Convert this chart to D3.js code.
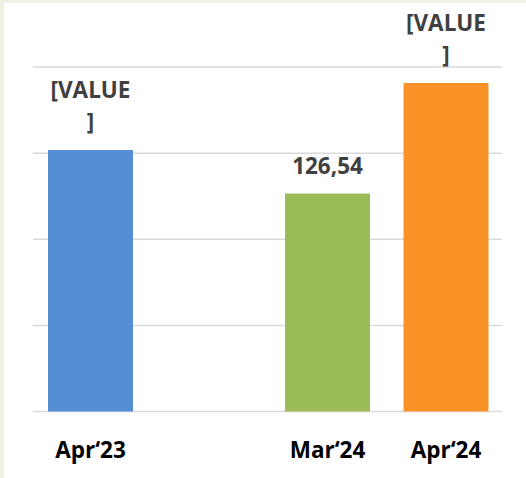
<!DOCTYPE html>
<html><head><meta charset="utf-8">
<script src="https://cdn.jsdelivr.net/npm/d3@7"></script>
<style>html,body{margin:0;padding:0;background:#fff;}svg{display:block;}</style>
</head><body>
<script>
const categories = ["Apr‘23", "", "Mar‘24", "Apr‘24"];
const values = [151.8, null, 126.54, 190.7];
const valueLabels = ["[VALUE ]", null, "126,54", "[VALUE ]"];
const colors = ["#558ed5", null, "#9bbb59", "#fa9228"];
const yTicks = [0, 50, 100, 150, 200];

const W = 526, H = 478;
const svg = d3.select("body").append("svg").attr("width", W).attr("height", H);
svg.append("rect").attr("width", W).attr("height", H).attr("fill", "#eef1e2");
svg.append("rect").attr("x", 4).attr("y", 3).attr("width", W - 4).attr("height", H - 3).attr("fill", "#fff");

const x = d3.scaleBand().domain(d3.range(categories.length)).range([31.25, 505.25]).paddingInner(0.283).paddingOuter(0.1415);
const y = d3.scaleLinear().domain([0, 200]).range([411.5, 67]);

svg.append("g").selectAll("line").data(yTicks).join("line")
  .attr("x1", 33).attr("x2", 502)
  .attr("y1", d => y(d)).attr("y2", d => y(d))
  .attr("stroke", "#d9d9d9").attr("stroke-width", 1.5);

const idx = d3.range(categories.length).filter(i => values[i] != null);

svg.append("g").selectAll("rect").data(idx).join("rect")
  .attr("x", i => x(i)).attr("width", x.bandwidth())
  .attr("y", i => y(values[i])).attr("height", i => y(0) - y(values[i]))
  .attr("fill", i => colors[i]);

const font = "'Open Sans', sans-serif";
const lbl = svg.append("g").selectAll("text").data(idx).join("text")
  .attr("text-anchor", "middle")
  .attr("font-family", font).attr("font-weight", "bold").attr("font-size", 22.5)
  .attr("fill", "#404040");
lbl.each(function(i) {
  const parts = valueLabels[i].split(" ");
  const t = d3.select(this);
  const cx = x(i) + x.bandwidth() / 2;
  const base = y(values[i]) - 20;
  parts.forEach((p, k) => {
    t.append("tspan").attr("x", cx).attr("y", base - (parts.length - 1 - k) * 32).text(p);
  });
});

svg.append("g").selectAll("text").data(categories).join("text")
  .attr("x", (d, i) => x(i) + x.bandwidth() / 2)
  .attr("y", 458)
  .attr("text-anchor", "middle")
  .attr("font-family", font).attr("font-weight", "bold").attr("font-size", 22.5)
  .attr("fill", "#000")
  .text(d => d);
</script>
</body></html>
